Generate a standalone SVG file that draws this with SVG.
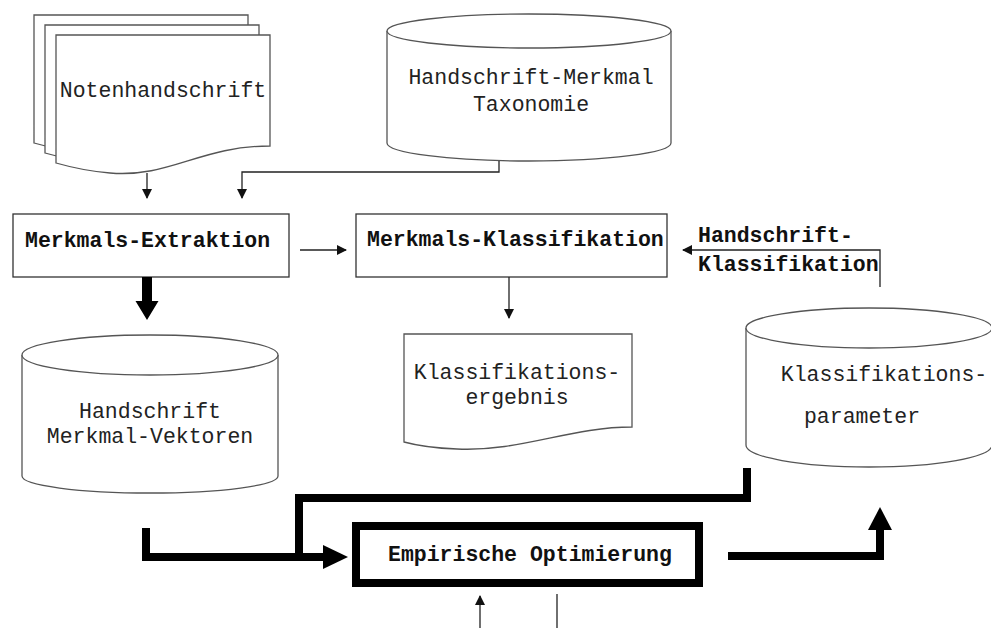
<svg xmlns="http://www.w3.org/2000/svg" width="991" height="628" viewBox="0 0 991 628">
<style>
.sh{fill:#fff;stroke:#555;stroke-width:1.3}
.box{fill:#fff;stroke:#333;stroke-width:1.3}
.t{font-family:"Liberation Mono","Courier New",monospace;font-size:21.5px;fill:#222;text-anchor:middle}
.b{font-family:"Liberation Mono","Courier New",monospace;font-size:21.5px;font-weight:bold;fill:#111}
.thin{fill:none;stroke:#222;stroke-width:1.3}
.thick{fill:none;stroke:#000;stroke-width:8}
</style>
<defs>
<marker id="ah" markerWidth="10" markerHeight="10" refX="9" refY="5" orient="auto" markerUnits="userSpaceOnUse"><path d="M0,0 L10,5 L0,10 Z" fill="#111"/></marker>
<path id="doc" d="M0,0 H214 V111 C144,111 114,143 54,138 C30,136 14,132 0,128 Z"/>
</defs>
<rect width="991" height="628" fill="#fff"/>

<g id="notenhandschrift">
<use href="#doc" class="sh" transform="translate(34,15)"/>
<use href="#doc" class="sh" transform="translate(45,25)"/>
<use href="#doc" class="sh" transform="translate(56,35)"/>
<text class="t" x="163" y="97">Notenhandschrift</text>
</g>

<g id="taxonomie">
<path class="sh" d="M387,31 A142,17 0 0 1 671,31 V143 A142,18 0 0 1 387,143 Z"/>
<path class="sh" fill="none" d="M387,31 A142,17 0 0 0 671,31"/>
<text class="t" x="531" y="84">Handschrift-Merkmal</text>
<text class="t" x="531" y="111">Taxonomie</text>
</g>

<g id="extraktion">
<rect class="box" x="13" y="214" width="276" height="63"/>
<text class="b" x="25" y="247">Merkmals-Extraktion</text>
</g>

<g id="klassifikation">
<rect class="box" x="356" y="214" width="311" height="63"/>
<text class="b" x="367" y="246">Merkmals-Klassifikation</text>
</g>

<g id="ergebnis">
<path class="sh" d="M404,334 H632 V427 C570,427 520,452 457,449 C430,448 415,445 404,442 Z"/>
<text class="t" x="517" y="379">Klassifikations-</text>
<text class="t" x="517" y="404">ergebnis</text>
</g>

<g id="vektoren">
<path class="sh" d="M22,355 A128,20 0 0 1 278,355 V476 A128,17 0 0 1 22,476 Z"/>
<path class="sh" fill="none" d="M22,355 A128,20 0 0 0 278,355"/>
<text class="t" x="150" y="418">Handschrift</text>
<text class="t" x="150" y="443">Merkmal-Vektoren</text>
</g>

<g id="parameter">
<path class="sh" d="M746,328 A123,20 0 0 1 992,328 V445 A123,22 0 0 1 746,445 Z"/>
<path class="sh" fill="none" d="M746,328 A123,20 0 0 0 992,328"/>
<text class="t" x="884" y="381">Klassifikations-</text>
<text class="t" x="862" y="423">parameter</text>
</g>

<g id="optimierung">
<rect x="356" y="526" width="343" height="57" fill="#fff" stroke="#000" stroke-width="8"/>
<text class="b" x="388" y="561">Empirische Optimierung</text>
</g>

<g id="label-hk">
<text class="b" x="698" y="242">Handschrift-</text>
<text class="b" x="698" y="271">Klassifikation</text>
</g>

<g id="connectors">
<path class="thin" d="M147,173 V198" marker-end="url(#ah)"/>
<path class="thin" d="M499,161 V172 H242 V198" marker-end="url(#ah)"/>
<path class="thin" d="M300,250 H346" marker-end="url(#ah)"/>
<path class="thin" d="M509,277 V318" marker-end="url(#ah)"/>
<path class="thin" d="M880,287 V250 H683" marker-end="url(#ah)"/>
<path d="M142,277 H152 V301 H158.5 L147,320 L135.5,301 H142 Z" fill="#000"/>
<path class="thick" d="M146,528 V557 H325"/>
<path d="M323,545 L348,557 L323,569 Z" fill="#000"/>
<path class="thick" d="M747,468 V498 H299 V557"/>
<path class="thick" d="M728,556 H880 V528"/>
<path d="M868,530 L880,507 L892,530 Z" fill="#000"/>
<path class="thin" d="M480,628 V596" marker-end="url(#ah)"/>
<path class="thin" d="M557,594 V628"/>
</g>
</svg>
